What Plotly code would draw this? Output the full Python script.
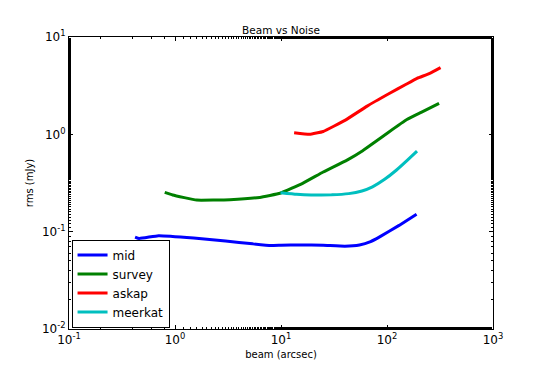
import plotly.graph_objects as go

# ---------------- data
mid_x = [0.42, 0.46, 0.70, 1.5, 3.0, 5.4, 8.0, 10.0, 15.0, 25.0, 40.0, 55.0, 70.0, 86.0, 130.0, 190.0]
mid_y = [0.088, 0.085, 0.091, 0.086, 0.080, 0.075, 0.072, 0.0725, 0.073, 0.0725, 0.071, 0.073, 0.079, 0.089, 0.116, 0.151]

survey_x = [0.80, 0.95, 1.6, 3.3, 6.3, 9.8, 16.0, 25.0, 42.0, 59.0, 80.0, 102.0, 154.0, 210.0, 310.0]
survey_y = [0.253, 0.238, 0.211, 0.213, 0.225, 0.248, 0.314, 0.41, 0.544, 0.68, 0.86, 1.04, 1.42, 1.68, 2.08]

askap_x = [13.3, 18.6, 25.0, 40.5, 65.0, 106.0, 150.0, 192.0, 250.0, 320.0]
askap_y = [1.04, 1.00, 1.07, 1.40, 1.95, 2.64, 3.25, 3.76, 4.20, 4.85]

meerkat_x = [9.9, 14.0, 19.2, 30.0, 43.6, 58.0, 73.0, 95.0, 123.0, 155.0, 192.0]
meerkat_y = [0.251, 0.242, 0.238, 0.239, 0.246, 0.262, 0.289, 0.345, 0.43, 0.54, 0.673]

x_ticks = [0.1, 1, 10, 100, 1000]
x_tick_text = ["10<sup>-1</sup>", "10<sup>0</sup>", "10<sup>1</sup>", "10<sup>2</sup>", "10<sup>3</sup>"]
y_ticks = [0.01, 0.1, 1, 10]
y_tick_text = ["10<sup>-2</sup>", "10<sup>-1</sup>", "10<sup>0</sup>", "10<sup>1</sup>"]

series = [
    ("mid", mid_x, mid_y, "#0000ff"),
    ("survey", survey_x, survey_y, "#008000"),
    ("askap", askap_x, askap_y, "#ff0000"),
    ("meerkat", meerkat_x, meerkat_y, "#00bfbf"),
]

fig = go.Figure()
for name, xs, ys, col in series:
    fig.add_trace(go.Scatter(
        x=xs, y=ys, name=name, mode="lines",
        line=dict(color=col, width=3, shape="spline", smoothing=0.3),
    ))

axis_style = dict(
    type="log",
    automargin=False,
    showgrid=False,
    zeroline=False,
    showline=True,
    linecolor="black",
    linewidth=1,
    mirror="allticks",
    ticks="inside",
    ticklen=4,
    tickcolor="black",
    tickfont=dict(size=12, color="black"),
    minor=dict(ticks="inside", ticklen=2, tickcolor="black", showgrid=False),
)

fig.update_xaxes(
    **axis_style,
    range=[-1, 3],
    tickvals=x_ticks,
    ticktext=x_tick_text,
    title=dict(text="beam (arcsec)", font=dict(size=10, color="black"), standoff=4),
)
fig.update_yaxes(
    **axis_style,
    range=[-2, 1],
    tickvals=y_ticks,
    ticktext=y_tick_text,
    title=dict(text="rms (mJy)", font=dict(size=10, color="black"), standoff=6),
)

# page body keeps its default 8px margin, so the figure is sized to fit inside
fig.update_layout(
    width=540,
    height=358,
    margin=dict(l=61, r=55, t=29, b=37),
    paper_bgcolor="white",
    plot_bgcolor="white",
    font=dict(family="DejaVu Sans", color="black"),
    title=dict(text="Beam vs Noise", x=0.5, xref="paper", y=1, yref="paper",
               yanchor="bottom", pad=dict(b=3), font=dict(size=10.5, color="black")),
    legend=dict(
        x=0.006, y=0.005, xanchor="left", yanchor="bottom",
        bordercolor="black", borderwidth=1, bgcolor="white",
        font=dict(size=12, color="black"),
        itemwidth=30,
        tracegroupgap=0,
    ),
)

fig.write_html("out.html")
